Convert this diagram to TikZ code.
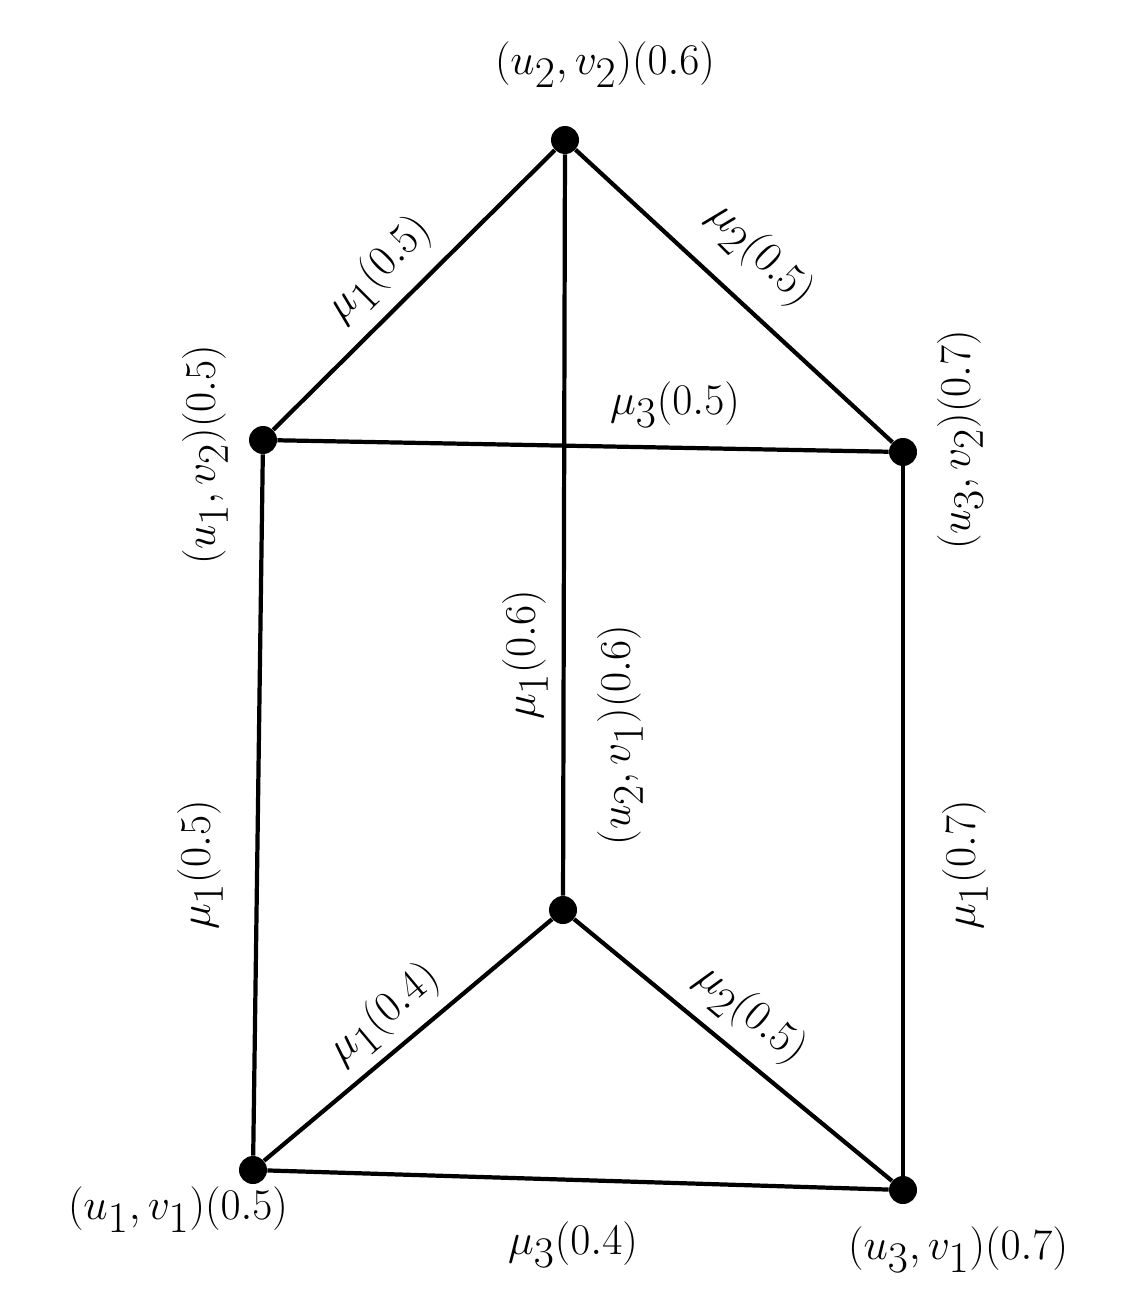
\documentclass[tikz,border=0pt]{standalone}
\begin{document}
\begin{tikzpicture}[x=0.02cm,y=-0.02cm,
  vtx/.style={circle,fill=black,inner sep=0pt,minimum size=0.56cm},
  lbl/.style={font=\fontsize{40}{48}\selectfont,inner sep=0pt},
  edge/.style={line width=2.4pt}]
\useasboundingbox (0,0) rectangle (1146,1307);
\node[vtx] (a) at (565,140) {};
\node[vtx] (b) at (263,440) {};
\node[vtx] (c) at (903,452) {};
\node[vtx] (d) at (563,910) {};
\node[vtx] (e) at (253,1170) {};
\node[vtx] (f) at (903,1190) {};
\draw[edge] (b)--(a)--(c)--(b)--(e)--(d)--(f)--(e);
\draw[edge] (a)--(d);
\draw[edge] (c)--(f);
\node[lbl] (la) at (605,65) {$(u_2,v_2)(0.6)$};
\node[lbl,rotate=90] (lb) at (205,455) {$(u_1,v_2)(0.5)$};
\node[lbl,rotate=90] (lc) at (960,440) {$(u_3,v_2)(0.7)$};
\node[lbl,rotate=90] (ld) at (620,735) {$(u_2,v_1)(0.6)$};
\node[lbl] (le) at (178,1210) {$(u_1,v_1)(0.5)$};
\node[lbl] (lf) at (958,1250) {$(u_3,v_1)(0.7)$};
\node[lbl,rotate=45] (m1) at (380,270) {$\mu_1(0.5)$};
\node[lbl,rotate=-45] (m2) at (760,255) {$\mu_2(0.5)$};
\node[lbl] (m3) at (675,405) {$\mu_3(0.5)$};
\node[lbl,rotate=90] (m4) at (525,655) {$\mu_1(0.6)$};
\node[lbl,rotate=90] (m5) at (200,865) {$\mu_1(0.5)$};
\node[lbl,rotate=90] (m6) at (965,865) {$\mu_1(0.7)$};
\node[lbl,rotate=40] (m7) at (385,1015) {$\mu_1(0.4)$};
\node[lbl,rotate=-40] (m8) at (750,1015) {$\mu_2(0.5)$};
\node[lbl] (m9) at (573,1245) {$\mu_3(0.4)$};
\end{tikzpicture}
\end{document}
